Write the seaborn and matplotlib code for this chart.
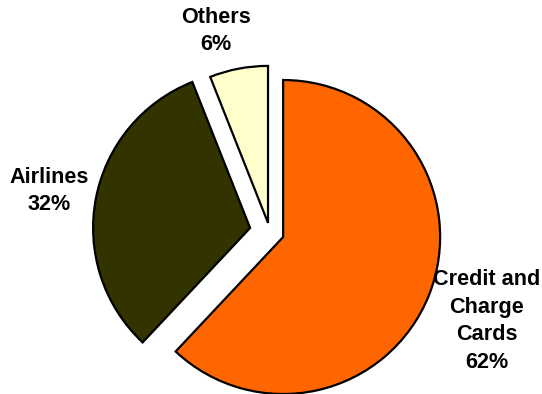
import matplotlib
matplotlib.use("Agg")
import matplotlib.pyplot as plt
import seaborn as sns

categories = ["Credit and\nCharge\nCards", "Airlines", "Others"]
shares = [62, 32, 6]
colors = ["#FF6600", "#333300", "#FFFFCC"]
explode = [0.092, 0.127, 0.057]  # fraction of radius

sns.set_theme(style="white")
plt.rcParams["font.family"] = ["Liberation Sans", "DejaVu Sans"]

W, H = 542, 394
fig = plt.figure(figsize=(W / 100, H / 100), dpi=100)
ax = fig.add_axes([0, 0, 1, 1])

cx, cy, r = 269.7, H - 231.7, 157
ax.pie(shares, colors=colors, explode=[e * r for e in explode],
       startangle=90, counterclock=False,
       center=(cx, cy), radius=r,
       wedgeprops=dict(edgecolor="black", linewidth=1.6, antialiased=True))
ax.set_xlim(0, W)
ax.set_ylim(0, H)
ax.set_aspect("equal")
ax.axis("off")

label_pos = [(487, 321), (49, 191), (216, 31)]
for cat, val, (x, y) in zip(categories, shares, label_pos):
    ax.text(x, H - y, f"{cat}\n{val}%", ha="center", va="center",
            fontsize=15.6, fontweight="bold", color="black", linespacing=1.43)

fig.savefig("out.png", dpi=100)
